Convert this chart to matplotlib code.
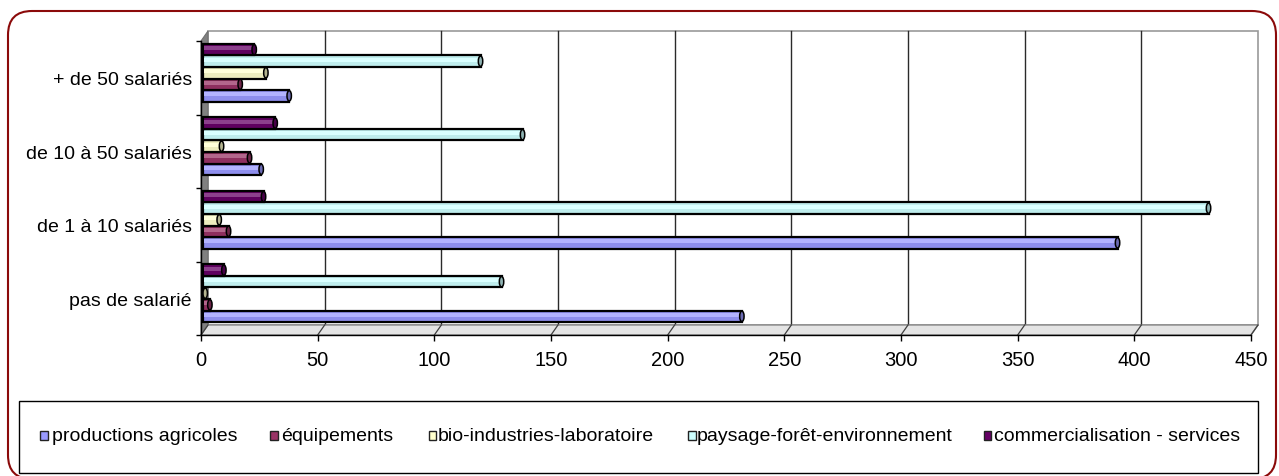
import matplotlib
matplotlib.use('Agg')
import matplotlib.pyplot as plt
from matplotlib.patches import Rectangle, Polygon, Ellipse, FancyBboxPatch
from matplotlib.transforms import IdentityTransform
from matplotlib.colors import to_rgb
import numpy as np

# ---------------- data ----------------
categories = ["pas de salarié", "de 1 à 10 salariés", "de 10 à 50 salariés", "+ de 50 salariés"]
series_names = ["productions agricoles", "équipements", "bio-industries-laboratoire",
                "paysage-forêt-environnement", "commercialisation - services"]
productions_agricoles = [231, 392, 25, 37]
equipements = [3, 11, 20, 16]
bio_industries_laboratoire = [1, 7, 8, 27]
paysage_foret_environnement = [128, 431, 137, 119]
commercialisation_services = [9, 26, 31, 22]
series_colors = ["#9999FF", "#993366", "#FFFFCC", "#CCFFFF", "#660066"]
x_ticks = [0, 50, 100, 150, 200, 250, 300, 350, 400, 450]

series_values = [productions_agricoles, equipements, bio_industries_laboratoire,
                 paysage_foret_environnement, commercialisation_services]

plt.rcParams['font.family'] = ['Liberation Sans', 'DejaVu Sans']
FS_Y, FS_X, FS_L = 14.0, 14.5, 14.0

W, H = 1279, 477
fig = plt.figure(figsize=(W / 100, H / 100), dpi=100)
fig.patch.set_facecolor('white')

def fx(px):
    return px / W

def fy(py):
    return 1 - py / H

# outer rounded border (pixel coordinates, origin bottom-left)
border = FancyBboxPatch((8, H - 480), 1268, 468,
                        boxstyle="round,pad=0,rounding_size=24",
                        transform=IdentityTransform(), fill=False,
                        edgecolor='#8B0A0A', linewidth=1.5)
fig.patches.append(border)

# axes = front plane of the 3D box
ax = fig.add_axes([fx(201), fy(336), fx(1251) - fx(201), fy(42) - fy(336)])
ax.set_xlim(0, 450)
ax.set_ylim(-0.5, 3.5)
ax.patch.set_visible(False)

xmax = x_ticks[-1]
DX = 7 * 450 / 1050          # depth offset in data units (7 px)
DY = 10 * 4 / 294            # depth offset in data units (10 px)

# back wall
ax.add_patch(Rectangle((DX, -0.5 + DY), xmax, 4, facecolor='white',
                       edgecolor='#9A9A9A', linewidth=1.2, zorder=0, clip_on=False))
for t in x_ticks[1:-1]:
    ax.plot([t + DX, t + DX], [-0.5 + DY, 3.5 + DY], color='#2A2A2A', lw=1.0,
            zorder=1, clip_on=False)
# left wall
ax.add_patch(Polygon([(0, -0.5), (0, 3.5), (DX, 3.5 + DY), (DX, -0.5 + DY)],
                     closed=True, facecolor='#808080', edgecolor='#707070',
                     linewidth=0.8, zorder=1, clip_on=False))
# floor
ax.add_patch(Polygon([(0, -0.5), (xmax, -0.5), (xmax + DX, -0.5 + DY), (DX, -0.5 + DY)],
                     closed=True, facecolor='#E4E4E4', edgecolor='#8A8A8A',
                     linewidth=1.0, zorder=1, clip_on=False))
for t in x_ticks:
    ax.plot([t, t + DX], [-0.5, -0.5 + DY], color='#404040', lw=0.9,
            zorder=2, clip_on=False)

# bars (drawn mid-depth)
h = 0.157
BL = 0.8
DYb = DY / 2
ypos = np.arange(len(categories))
for j, (vals, col) in enumerate(zip(series_values, series_colors)):
    y = ypos + DYb + (j - 2) * h
    base = np.array(to_rgb(col))
    shade = tuple(base * 0.93)
    ax.barh(y, vals, height=h, left=BL, color=shade, edgecolor='black',
            linewidth=1.6, zorder=3, clip_on=False)
    # soft highlight along the upper part of each bar (cylinder look)
    light = tuple(np.clip(base + (1 - base) * 0.25, 0, 1))
    ax.barh(y + h * 0.12, np.array(vals) - 0.6, height=h * 0.35, left=BL + 0.3,
            color=light, edgecolor='none', zorder=3.5, clip_on=False)
    dark = tuple(base * 0.7)
    for yi, v in zip(y, vals):
        ax.add_patch(Ellipse((BL + v, yi), width=1.9, height=h * 0.9,
                             facecolor=dark, edgecolor='black', linewidth=1.1,
                             zorder=4, clip_on=False))

# spines / ticks
for s in ['top', 'right']:
    ax.spines[s].set_visible(False)
for s in ['left', 'bottom']:
    ax.spines[s].set_color('black')
    ax.spines[s].set_linewidth(1.0)
    ax.spines[s].set_zorder(5)
ax.set_xticks(x_ticks)
ax.set_xticklabels([str(t) for t in x_ticks], fontsize=FS_X)
ax.tick_params(axis='x', direction='out', length=4, width=1, pad=7)
ax.set_yticks(ypos)
ax.set_yticklabels(categories, fontsize=FS_Y)
ax.set_yticks(np.arange(-0.5, 4, 1.0), minor=True)
ax.tick_params(axis='y', which='major', length=0, pad=6.5)
ax.tick_params(axis='y', which='minor', direction='out', length=3.5, width=1)

# legend box
fig.patches.append(Rectangle((fx(19), fy(474)), fx(1258) - fx(19), fy(402) - fy(474),
                             transform=fig.transFigure, fill=False,
                             edgecolor='black', linewidth=1.0))
marker_x = [40, 270, 429, 688, 984]
text_x = [52, 281, 438, 697, 994]
ly = 437
for name, col, mx, tx in zip(series_names, series_colors, marker_x, text_x):
    fig.patches.append(Rectangle((fx(mx), fy(ly + 3.5)), fx(7.5), fy(ly - 4.5) - fy(ly + 3.5),
                                 transform=fig.transFigure, facecolor=col,
                                 edgecolor='#222222', linewidth=1.0))
    fig.text(fx(tx), fy(ly), name, fontsize=FS_L, ha='left', va='center',
             color='black')

fig.savefig('out.png', dpi=100)
